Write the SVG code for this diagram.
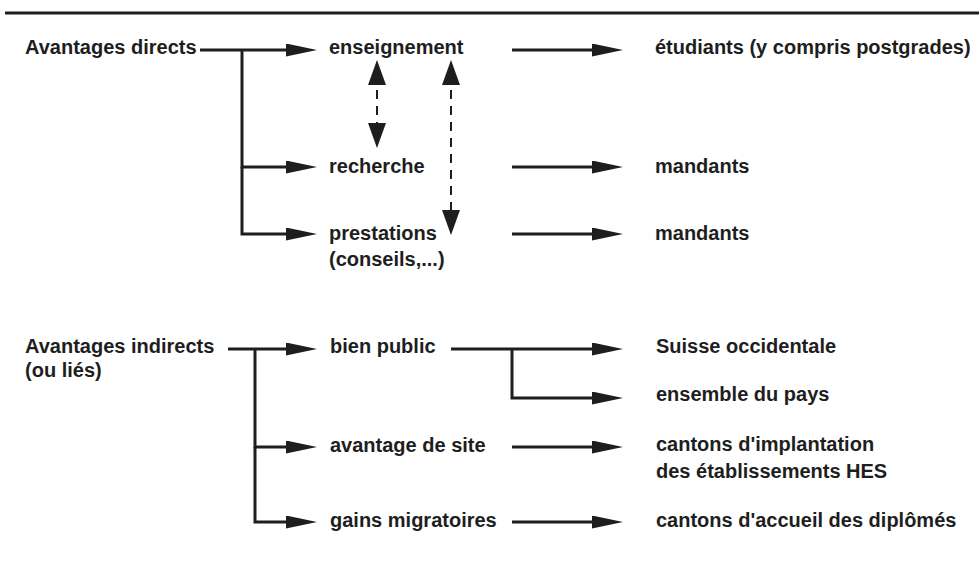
<svg xmlns="http://www.w3.org/2000/svg" width="979" height="564" viewBox="0 0 979 564">
<style>
text{font-family:"Liberation Sans",Arial,sans-serif;font-size:20px;font-weight:bold;fill:#1e1e1e}
.ln{stroke:#1e1e1e;stroke-width:3;fill:none}
.ah{stroke:#1e1e1e;stroke-width:3;fill:none;marker-end:url(#ah)}
.dd{stroke:#1e1e1e;stroke-width:2;fill:none;stroke-dasharray:9 7;marker-start:url(#av);marker-end:url(#av)}
</style>
<defs>
<marker id="ah" markerUnits="userSpaceOnUse" markerWidth="32" markerHeight="14" refX="11" refY="6.5" orient="auto"><path d="M0,0 L31,6.5 L0,13 z" fill="#1e1e1e"/></marker>
<marker id="av" markerUnits="userSpaceOnUse" markerWidth="26" markerHeight="18" refX="11" refY="9" orient="auto-start-reverse"><path d="M0,0 L25,9 L0,18 z" fill="#1e1e1e"/></marker>
</defs>
<rect width="979" height="564" fill="#ffffff"/>
<line class="ln" x1="5" y1="13" x2="979" y2="13"/>
<g id="connectors">
<polyline class="ah" points="200,50 297,50"/>
<polyline class="ah" points="242,50 242,167 297,167"/>
<polyline class="ah" points="242,167 242,234 297,234"/>
<line class="ah" x1="512" y1="50" x2="603" y2="50"/>
<line class="ah" x1="512" y1="167" x2="603" y2="167"/>
<line class="ah" x1="512" y1="234" x2="603" y2="234"/>
<line class="dd" x1="377" y1="74" x2="377" y2="134"/>
<line class="dd" x1="451" y1="74" x2="451" y2="221"/>
<polyline class="ah" points="228,349 297,349"/>
<polyline class="ah" points="255,349 255,447 297,447"/>
<polyline class="ah" points="255,447 255,522 297,522"/>
<polyline class="ah" points="451,349 603,349"/>
<polyline class="ah" points="512,349 512,398 603,398"/>
<line class="ah" x1="512" y1="447" x2="603" y2="447"/>
<line class="ah" x1="512" y1="522" x2="603" y2="522"/>
</g>
<g id="avantages-directs"><text x="25" y="54">Avantages directs</text></g>
<g id="enseignement"><text x="329" y="54">enseignement</text></g>
<g id="recherche"><text x="329" y="173">recherche</text></g>
<g id="prestations"><text x="329" y="240">prestations</text><text x="329" y="266">(conseils,...)</text></g>
<g id="etudiants"><text x="655" y="54">étudiants (y compris postgrades)</text></g>
<g id="mandants-1"><text x="655" y="173">mandants</text></g>
<g id="mandants-2"><text x="655" y="240">mandants</text></g>
<g id="avantages-indirects"><text x="25" y="353">Avantages indirects</text><text x="25" y="377">(ou liés)</text></g>
<g id="bien-public"><text x="330" y="353">bien public</text></g>
<g id="avantage-site"><text x="330" y="452">avantage de site</text></g>
<g id="gains"><text x="330" y="527">gains migratoires</text></g>
<g id="suisse"><text x="656" y="353">Suisse occidentale</text></g>
<g id="ensemble"><text x="656" y="401">ensemble du pays</text></g>
<g id="cantons-impl"><text x="656" y="451">cantons d'implantation</text><text x="656" y="478">des établissements HES</text></g>
<g id="cantons-accueil"><text x="656" y="527">cantons d'accueil des diplômés</text></g>
</svg>
